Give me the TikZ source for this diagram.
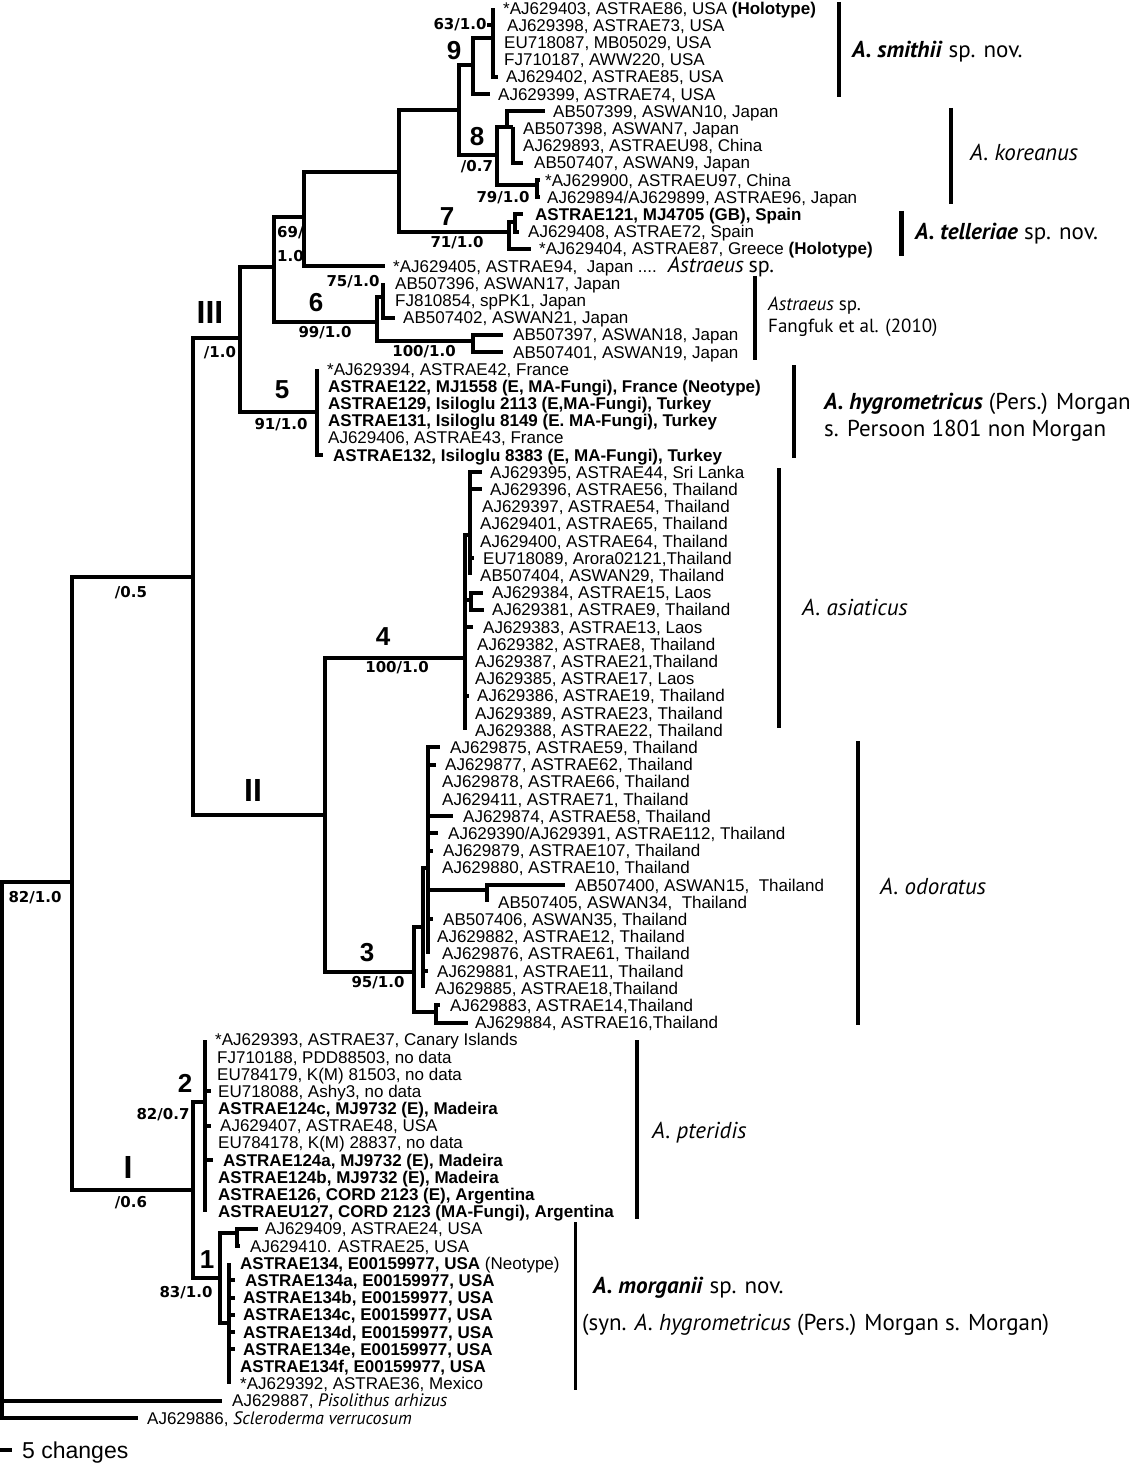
\documentclass[tikz,border=0pt]{standalone}
\usepackage{fontspec}
\usepackage{graphicx}
\setmainfont{Liberation Sans}
\newfontfamily\hum{PT Sans}
\newfontfamily\dvs{DejaVu Sans}
\tikzset{
 br/.style={line width=4pt, line join=miter},
 leaf/.style={anchor=base west, inner sep=0pt, font=\fontsize{17}{17}\selectfont},
 bleaf/.style={leaf, font=\fontsize{17}{17}\selectfont\bfseries},
 sup/.style={inner sep=0pt, font=\dvs\bfseries\fontsize{15}{15}\selectfont},
 cnum/.style={inner sep=0pt, font=\bfseries\fontsize{26}{26}\selectfont},
 rnum/.style={inner sep=0pt, font=\bfseries\fontsize{32}{32}\selectfont},
 bar/.style={line width=4pt},
 splab/.style={anchor=base west, inner sep=0pt, font=\hum\fontsize{23}{23}\selectfont},
 smlab/.style={anchor=base west, inner sep=0pt, font=\hum\fontsize{19}{19}\selectfont},
}
\newcommand\lf[6][leaf]{\coordinate (#2) at (#3,{8+17.195*(#5-1)});
 \node[#1] (#2t) at (#4,{14.1+17.195*(#5-1)}) {#6};}
\newcommand\kids[2]{\foreach \k in {#2}{\draw[br] (#1) |- (\k);}}
\newcommand\humit[1]{{\hum\fontsize{22}{22}\selectfont\itshape #1}}
\begin{document}
\begin{tikzpicture}[x=1pt,y=-1pt]
\useasboundingbox (0,0) rectangle (1133,1463);
% ---------- leaves ----------
\lf{L1}{493}{503}{1}{*AJ629403, ASTRAE86, USA \textbf{(Holotype)}}
\lf{L2}{493}{507}{2}{AJ629398, ASTRAE73, USA}
\lf{L3}{493}{504}{3}{EU718087, MB05029, USA}
\lf{L4}{493}{504}{4}{FJ710187, AWW220, USA}
\lf{L5}{498}{506}{5}{AJ629402, ASTRAE85, USA}
\lf{L6}{490}{498}{6}{AJ629399, ASTRAE74, USA}
\lf{L7}{545}{553}{7}{AB507399, ASWAN10, Japan}
\lf{L8}{513}{523}{8}{AB507398, ASWAN7, Japan}
\lf{L9}{513}{523}{9}{AJ629893, ASTRAEU98, China}
\lf{L10}{523}{534}{10}{AB507407, ASWAN9, Japan}
\lf{L11}{540}{545}{11}{*AJ629900, ASTRAEU97, China}
\lf{L12}{540}{547}{12}{AJ629894/AJ629899, ASTRAE96, Japan}
\lf[bleaf]{L13}{523}{535}{13}{ASTRAE121, MJ4705 (GB), Spain}
\lf{L14}{519}{528}{14}{AJ629408, ASTRAE72, Spain}
\lf{L15}{531}{539}{15}{*AJ629404, ASTRAE87, Greece \textbf{(Holotype)}}
\lf{L16}{385}{393}{16}{*AJ629405, ASTRAE94,~ Japan ....~ \humit{Astraeus} {\hum\fontsize{22}{22}\selectfont sp.}}
\lf{L17}{383}{395}{17}{AB507396, ASWAN17, Japan}
\lf{L18}{383}{395}{18}{FJ810854, spPK1, Japan}
\lf{L19}{395}{403}{19}{AB507402, ASWAN21, Japan}
\lf{L20}{503}{513}{20}{AB507397, ASWAN18, Japan}
\lf{L21}{503}{513}{21}{AB507401, ASWAN19, Japan}
\lf{L22}{317}{327}{22}{*AJ629394, ASTRAE42, France}
\lf[bleaf]{L23}{317}{328}{23}{ASTRAE122, MJ1558 (E, MA-Fungi), France (Neotype)}
\lf[bleaf]{L24}{317}{328}{24}{ASTRAE129, Isiloglu 2113 (E,MA-Fungi), Turkey}
\lf[bleaf]{L25}{317}{328}{25}{ASTRAE131, Isiloglu 8149 (E. MA-Fungi), Turkey}
\lf{L26}{317}{328}{26}{AJ629406, ASTRAE43, France}
\lf[bleaf]{L27}{323}{333}{27}{ASTRAE132, Isiloglu 8383 (E, MA-Fungi), Turkey}
\lf{L28}{482}{490}{28}{AJ629395, ASTRAE44, Sri Lanka}
\lf{L29}{482}{490}{29}{AJ629396, ASTRAE56, Thailand}
\lf{L30}{470}{482}{30}{AJ629397, ASTRAE54, Thailand}
\lf{L31}{470}{480}{31}{AJ629401, ASTRAE65, Thailand}
\lf{L32}{470}{480}{32}{AJ629400, ASTRAE64, Thailand}
\lf{L33}{474}{483}{33}{EU718089, Arora02121,Thailand}
\lf{L34}{470}{480}{34}{AB507404, ASWAN29, Thailand}
\lf{L35}{483}{492}{35}{AJ629384, ASTRAE15, Laos}
\lf{L36}{484}{492}{36}{AJ629381, ASTRAE9, Thailand}
\lf{L37}{473}{483}{37}{AJ629383, ASTRAE13, Laos}
\lf{L38}{465}{477}{38}{AJ629382, ASTRAE8, Thailand}
\lf{L39}{465}{475}{39}{AJ629387, ASTRAE21,Thailand}
\lf{L40}{465}{475}{40}{AJ629385, ASTRAE17, Laos}
\lf{L41}{469}{477}{41}{AJ629386, ASTRAE19, Thailand}
\lf{L42}{465}{475}{42}{AJ629389, ASTRAE23, Thailand}
\lf{L43}{465}{475}{43}{AJ629388, ASTRAE22, Thailand}
\lf{L44}{440}{450}{44}{AJ629875, ASTRAE59, Thailand}
\lf{L45}{436}{445}{45}{AJ629877, ASTRAE62, Thailand}
\lf{L46}{428}{442}{46}{AJ629878, ASTRAE66, Thailand}
\lf{L47}{428}{442}{47}{AJ629411, ASTRAE71, Thailand}
\lf{L48}{453}{463}{48}{AJ629874, ASTRAE58, Thailand}
\lf{L49}{438}{448}{49}{AJ629390/AJ629391, ASTRAE112, Thailand}
\lf{L50}{433}{443}{50}{AJ629879, ASTRAE107, Thailand}
\lf{L51}{428}{442}{51}{AJ629880, ASTRAE10, Thailand}
\lf{L52}{565}{575}{52}{AB507400, ASWAN15,~ Thailand}
\lf{L53}{487}{498}{53}{AB507405, ASWAN34,~ Thailand}
\lf{L54}{433}{443}{54}{AB507406, ASWAN35, Thailand}
\lf{L55}{428}{437}{55}{AJ629882, ASTRAE12, Thailand}
\lf{L56}{428}{442}{56}{AJ629876, ASTRAE61, Thailand}
\lf{L57}{428}{437}{57}{AJ629881, ASTRAE11, Thailand}
\lf{L58}{423}{435}{58}{AJ629885, ASTRAE18,Thailand}
\lf{L59}{440}{450}{59}{AJ629883, ASTRAE14,Thailand}
\lf{L60}{468}{475}{60}{AJ629884, ASTRAE16,Thailand}
\lf{L61}{205}{215}{61}{*AJ629393, ASTRAE37, Canary Islands}
\lf{L62}{205}{217}{62}{FJ710188, PDD88503, no data}
\lf{L63}{205}{217}{63}{EU784179, K(M) 81503, no data}
\lf{L64}{211}{218}{64}{EU718088, Ashy3, no data}
\lf[bleaf]{L65}{205}{218}{65}{ASTRAE124c, MJ9732 (E), Madeira}
\lf{L66}{211}{220}{66}{AJ629407, ASTRAE48, USA}
\lf{L67}{205}{218}{67}{EU784178, K(M) 28837, no data}
\lf[bleaf]{L68}{213}{223}{68}{ASTRAE124a, MJ9732 (E), Madeira}
\lf[bleaf]{L69}{205}{218}{69}{ASTRAE124b, MJ9732 (E), Madeira}
\lf[bleaf]{L70}{205}{218}{70}{ASTRAE126, CORD 2123 (E), Argentina}
\lf[bleaf]{L71}{205}{218}{71}{ASTRAEU127, CORD 2123 (MA-Fungi), Argentina}
\lf{L72}{258}{265}{72}{AJ629409, ASTRAE24, USA}
\lf{L73}{240}{250}{73}{AJ629410. ASTRAE25, USA}
\lf[bleaf]{L74}{229}{240}{74}{ASTRAE134, E00159977, USA {\mdseries (Neotype)}}
\lf[bleaf]{L75}{235}{245}{75}{ASTRAE134a, E00159977, USA}
\lf[bleaf]{L76}{235}{243}{76}{ASTRAE134b, E00159977, USA}
\lf[bleaf]{L77}{235}{243}{77}{ASTRAE134c, E00159977, USA}
\lf[bleaf]{L78}{235}{243}{78}{ASTRAE134d, E00159977, USA}
\lf[bleaf]{L79}{235}{243}{79}{ASTRAE134e, E00159977, USA}
\lf[bleaf]{L80}{229}{240}{80}{ASTRAE134f, E00159977, USA}
\lf{L81}{229}{240}{81}{*AJ629392, ASTRAE36, Mexico}
\lf{L82}{222}{232}{82}{AJ629887, {\hum\fontsize{18}{18}\selectfont\itshape Pisolithus arhizus}}
\lf{L83}{138}{147}{83}{AJ629886, {\hum\fontsize{18}{18}\selectfont\itshape Scleroderma verrucosum}}
% ---------- internal nodes ----------
\coordinate (root) at (2,1150);
\coordinate (nIn) at (72,882);
\coordinate (nA) at (193,577);
\coordinate (nIII) at (240,338);
\coordinate (nB) at (274,267);
\coordinate (nC) at (304,217);
\coordinate (nD) at (399,172);
\coordinate (nE) at (459,110);
\coordinate (n9) at (473,65);
\coordinate (n9a) at (493,38);
\coordinate (n8) at (497,155);
\coordinate (n8a) at (507,127);
\coordinate (n8b) at (513,127);
\coordinate (n8c) at (537,185);
\coordinate (n7) at (509,232);
\coordinate (n7a) at (515,222);
\coordinate (n6) at (377,322);
\coordinate (n6a) at (383,297);
\coordinate (n6b) at (473,341);
\coordinate (n5) at (317,412);
\coordinate (nII) at (325,815);
\coordinate (n4) at (465,658);
\coordinate (n4a) at (470,535);
\coordinate (n4b) at (471,600);
\coordinate (n3) at (414,972);
\coordinate (n3a) at (423,927);
\coordinate (n3b) at (428,868);
\coordinate (n3d) at (487,890);
\coordinate (n3c) at (436,1012);
\coordinate (nI) at (193,1190);
\coordinate (n2) at (205,1102);
\coordinate (n1) at (220,1278);
\coordinate (n1a) at (237,1233);
\coordinate (n1b) at (229,1323);
% ---------- branches ----------
\kids{root}{nIn,L82,L83}
\kids{nIn}{nA,nI}
\kids{nA}{nIII,nII}
\kids{nIII}{nB,n5}
\kids{nB}{nC,n6}
\kids{nC}{nD,L16}
\kids{nD}{nE,n7}
\kids{nE}{n9,n8}
\kids{n9}{n9a,L6}
\kids{n9a}{L1,L2,L3,L4,L5}
\draw[br] ([xshift=-6pt]n9a |- L2) -- (n9a |- L2);
\kids{n8}{n8a,n8c}
\kids{n8a}{L7,n8b}
\kids{n8b}{L8,L9,L10}
\kids{n8c}{L11,L12}
\kids{n7}{n7a,L15}
\kids{n7a}{L13,L14}
\kids{n6}{n6a,n6b}
\kids{n6a}{L17,L18,L19}
\kids{n6b}{L20,L21}
\kids{n5}{L22,L23,L24,L25,L26,L27}
\kids{nII}{n4,n3}
\kids{n4}{n4a,n4b,L37,L38,L39,L40,L41,L42,L43}
\kids{n4a}{L28,L29,L30,L31,L32,L33,L34}
\kids{n4b}{L35,L36}
\kids{n3}{n3a,n3c}
\kids{n3a}{n3b,L57,L58}
\kids{n3b}{L44,L45,L46,L47,L48,L49,L50,L51,n3d,L54,L55,L56}
\kids{n3d}{L52,L53}
\kids{n3c}{L59,L60}
\kids{nI}{n2,n1}
\kids{n2}{L61,L62,L63,L64,L65,L66,L67,L68,L69,L70,L71}
\kids{n1}{n1a,n1b}
\kids{n1a}{L72,L73}
\kids{n1b}{L74,L75,L76,L77,L78,L79,L80,L81}
% ---------- support values and clade numbers ----------
\node[sup] (s63) at (460,25) {63/1.0};
\node[cnum] (c9) at (454,51) {9};
\node[cnum] (c8) at (477,137) {8};
\node[sup] (s07) at (477,167) {/0.7};
\node[sup] (s79) at (503,198) {79/1.0};
\node[cnum] (c7) at (447,217) {7};
\node[sup] (s71) at (457,243) {71/1.0};
\node[sup,anchor=west] (s69a) at (277,233) {69/};
\node[sup,anchor=west] (s69b) at (277,256) {1.0};
\node[sup] (s75) at (353,282) {75/1.0};
\node[cnum] (c6) at (316,303) {6};
\node[sup] (s99) at (325,333) {99/1.0};
\node[sup] (s100a) at (424,352) {100/1.0};
\node[rnum] (cIII) at (210,312) {III};
\node[sup] (s10) at (220,353) {/1.0};
\node[cnum] (c5) at (282,390) {5};
\node[sup] (s91) at (281,425) {91/1.0};
\node[cnum] (c4) at (383,637) {4};
\node[sup] (s100b) at (397,668) {100/1.0};
\node[sup] (s05) at (131,593) {/0.5};
\node[rnum] (cII) at (253,790) {II};
\node[cnum] (c3) at (367,953) {3};
\node[sup] (s95) at (378,983) {95/1.0};
\node[sup] (s82) at (35,898) {82/1.0};
\node[cnum] (c2) at (185,1083) {2};
\node[sup] (s827) at (163,1115) {82/0.7};
\node[rnum] (cI) at (128,1167) {I};
\node[sup] (s06) at (131,1203) {/0.6};
\node[cnum] (c1) at (207,1260) {1};
\node[sup] (s83) at (186,1293) {83/1.0};
% ---------- clade bars and names ----------
\coordinate (bSa) at (839,2); \coordinate (bSb) at (839,97);
\draw[bar] (bSa) -- (bSb);
\node[splab] (tS) at (852,58) {\textbf{\textit{A. smithii}} sp. nov.};
\coordinate (bKa) at (951,108); \coordinate (bKb) at (951,204);
\draw[bar] (bKa) -- (bKb);
\node[splab] (tK) at (970,161) {\textit{A. koreanus}};
\coordinate (bTa) at (901,211); \coordinate (bTb) at (901,256);
\draw[bar,line width=5pt] (bTa) -- (bTb);
\node[splab] (tT) at (915,240) {\textbf{\textit{A. telleriae}} sp. nov.};
\coordinate (bAa) at (755,276); \coordinate (bAb) at (755,360);
\draw[bar] (bAa) -- (bAb);
\node[smlab] (tA1) at (768,310) {\textit{Astraeus} sp.};
\node[smlab] (tA2) at (768,332) {Fangfuk et al. (2010)};
\coordinate (bHa) at (794,365); \coordinate (bHb) at (794,458);
\draw[bar] (bHa) -- (bHb);
\node[splab] (tH1) at (824,409) {\textbf{\textit{A. hygrometricus}} (Pers.) Morgan};
\node[splab] (tH2) at (824,436) {s. Persoon 1801 non Morgan};
\coordinate (bAsa) at (779,468); \coordinate (bAsb) at (779,728);
\draw[bar] (bAsa) -- (bAsb);
\node[splab] (tAs) at (802,615) {\textit{A. asiaticus}};
\coordinate (bOa) at (858,741); \coordinate (bOb) at (858,1025);
\draw[bar] (bOa) -- (bOb);
\node[splab] (tO) at (880,894) {\textit{A. odoratus}};
\coordinate (bPa) at (637,1040); \coordinate (bPb) at (637,1219);
\draw[bar] (bPa) -- (bPb);
\node[splab] (tP) at (652,1138) {\textit{A. pteridis}};
\coordinate (bMa) at (575,1222); \coordinate (bMb) at (575,1390);
\draw[bar,line width=3pt] (bMa) -- (bMb);
\node[splab] (tM1) at (593,1293) {\textbf{\textit{A. morganii}} sp. nov.};
\node[splab] (tM2) at (582,1330) {(syn. \textit{A. hygrometricus} (Pers.) Morgan s. Morgan)};
% ---------- scale bar ----------
\coordinate (sb1) at (0,1450); \coordinate (sb2) at (12,1450);
\draw[line width=4pt] (sb1) -- (sb2);
\node[anchor=base west, inner sep=0pt, font=\fontsize{23}{23}\selectfont] (sbt) at (22,1458) {5 changes};
\end{tikzpicture}
\end{document}
